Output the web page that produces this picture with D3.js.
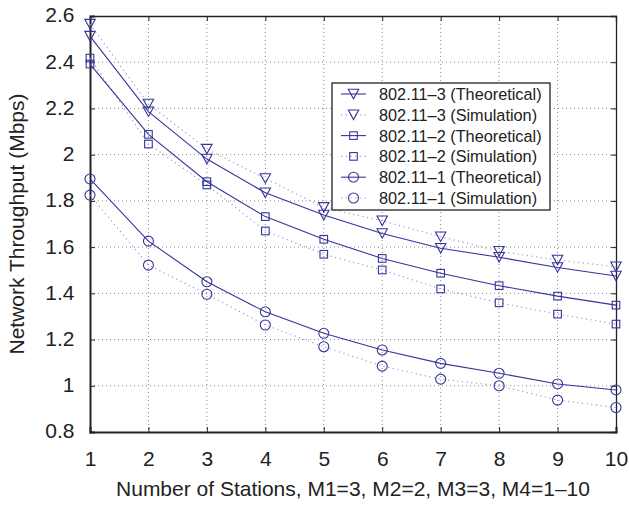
<!DOCTYPE html>
<html>
<head>
<meta charset="utf-8">
<script src="https://cdn.jsdelivr.net/npm/d3@7"></script>
<style>
  html, body { margin: 0; padding: 0; background: #fff; }
  svg { display: block; font-family: "Liberation Sans", Arial, Helvetica, sans-serif; }
</style>
</head>
<body>
<svg id="chart" width="629" height="505"></svg>
<script>
// Number of stations (M4)
const stations = [1, 2, 3, 4, 5, 6, 7, 8, 9, 10];

// Throughput in Mbps
const theo3 = [2.513, 2.186, 1.981, 1.835, 1.739, 1.659, 1.595, 1.556, 1.512, 1.475];
const sim3  = [2.565, 2.219, 2.024, 1.897, 1.772, 1.714, 1.645, 1.582, 1.544, 1.515];
const theo2 = [2.392, 2.088, 1.883, 1.732, 1.634, 1.551, 1.487, 1.433, 1.388, 1.349];
const sim2  = [2.418, 2.046, 1.869, 1.670, 1.569, 1.501, 1.419, 1.359, 1.310, 1.267];
const theo1 = [1.895, 1.626, 1.450, 1.320, 1.227, 1.155, 1.097, 1.054, 1.008, 0.982];
const sim1  = [1.825, 1.522, 1.396, 1.263, 1.169, 1.085, 1.029, 1.000, 0.938, 0.906];

const yTicks = [0.8, 1, 1.2, 1.4, 1.6, 1.8, 2, 2.2, 2.4, 2.6];
const xTicks = [1, 2, 3, 4, 5, 6, 7, 8, 9, 10];

const seriesNames = [
  "802.11\u20133 (Theoretical)", "802.11\u20133 (Simulation)",
  "802.11\u20132 (Theoretical)", "802.11\u20132 (Simulation)",
  "802.11\u20131 (Theoretical)", "802.11\u20131 (Simulation)"
];

const series = [
  { name: seriesNames[0], values: theo3, marker: "tri", kind: "theo" },
  { name: seriesNames[1], values: sim3,  marker: "tri", kind: "sim" },
  { name: seriesNames[2], values: theo2, marker: "sq",  kind: "theo" },
  { name: seriesNames[3], values: sim2,  marker: "sq",  kind: "sim" },
  { name: seriesNames[4], values: theo1, marker: "circ", kind: "theo" },
  { name: seriesNames[5], values: sim1,  marker: "circ", kind: "sim" }
];

const margin = { left: 90, top: 16, right: 13, bottom: 73 };
const W = 629, H = 505;
const pw = W - margin.left - margin.right;
const ph = H - margin.top - margin.bottom;

const markColor = "#35359a";
const simLineColor = "#9a9ad8";
const textColor = "#222";

const svg = d3.select("#chart");
const g = svg.append("g").attr("transform", `translate(${margin.left},${margin.top})`);

const x = d3.scaleLinear().domain([1, 10]).range([0, pw]);
const y = d3.scaleLinear().domain([0.8, 2.6]).range([ph, 0]);

// dotted grid
const grid = g.append("g");
grid.selectAll("line.gx").data(xTicks.slice(1, -1)).enter().append("line")
  .attr("x1", d => x(d)).attr("x2", d => x(d)).attr("y1", 0).attr("y2", ph)
  .attr("stroke", "#8a8a8a").attr("stroke-width", 1).attr("stroke-dasharray", "1,3");
grid.selectAll("line.gy").data(yTicks.slice(1, -1)).enter().append("line")
  .attr("x1", 0).attr("x2", pw).attr("y1", d => y(d)).attr("y2", d => y(d))
  .attr("stroke", "#8a8a8a").attr("stroke-width", 1).attr("stroke-dasharray", "1,3");

// axes with inward ticks
const tickFmt = d => d3.format("")(d);
const axB = g.append("g").attr("transform", `translate(0,${ph})`)
  .call(d3.axisBottom(x).tickValues(xTicks).tickSize(-5).tickPadding(19).tickFormat(tickFmt));
const axL = g.append("g")
  .call(d3.axisLeft(y).tickValues(yTicks).tickSize(-5).tickPadding(15.5).tickFormat(tickFmt));
const axT = g.append("g")
  .call(d3.axisTop(x).tickValues(xTicks).tickSize(-5).tickFormat(""));
const axR = g.append("g").attr("transform", `translate(${pw},0)`)
  .call(d3.axisRight(y).tickValues(yTicks).tickSize(-5).tickFormat(""));

[axB, axL, axT, axR].forEach(a => {
  a.select(".domain").attr("stroke", textColor).attr("stroke-width", 1.3);
  a.selectAll(".tick line").attr("stroke", textColor).attr("stroke-width", 1);
  a.selectAll(".tick text").attr("fill", textColor).attr("font-size", 21)
    .attr("font-family", "'Liberation Sans', Arial, sans-serif");
});
axL.selectAll(".tick text").attr("dy", "0.28em");
axB.select(".domain").attr("stroke-width", 2);
axL.select(".domain").attr("stroke-width", 2);

// marker shapes
function drawMarker(sel, type, cx, cy) {
  if (type === "tri") {
    const w = 5.2, h = 8.5;
    sel.append("path")
      .attr("d", `M${cx - w},${cy - h / 2 - 0.5}L${cx + w},${cy - h / 2 - 0.5}L${cx},${cy + h / 2 + 0.5}Z`)
      .attr("fill", "none").attr("stroke", markColor).attr("stroke-width", 1.1);
  } else if (type === "sq") {
    const s = 3.8;
    sel.append("rect")
      .attr("x", cx - s).attr("y", cy - s).attr("width", 2 * s).attr("height", 2 * s)
      .attr("fill", "none").attr("stroke", markColor).attr("stroke-width", 1.1);
  } else {
    sel.append("circle").attr("cx", cx).attr("cy", cy).attr("r", 5)
      .attr("fill", "none").attr("stroke", markColor).attr("stroke-width", 1.1);
  }
}

const line = d3.line().x((d, i) => x(stations[i])).y(d => y(d));

// dotted simulation lines first, then solid theoretical ones
series.filter(s => s.kind === "sim").forEach(s => {
  g.append("path").datum(s.values).attr("d", line)
    .attr("fill", "none").attr("stroke", simLineColor).attr("stroke-width", 1.2)
    .attr("stroke-dasharray", "1.2,3.5");
});
series.filter(s => s.kind === "theo").forEach(s => {
  g.append("path").datum(s.values).attr("d", line)
    .attr("fill", "none").attr("stroke", markColor).attr("stroke-width", 1.1);
});
series.forEach(s => {
  const mg = g.append("g");
  s.values.forEach((v, i) => drawMarker(mg, s.marker, x(stations[i]), y(v)));
});

// legend
const lg = svg.append("g").attr("transform", "translate(332,83)");
lg.append("rect").attr("x", 0).attr("y", 0).attr("width", 218).attr("height", 127)
  .attr("fill", "#fff").attr("stroke", textColor).attr("stroke-width", 1.3);
series.forEach((s, i) => {
  const ry = 11 + i * 20.8;
  if (s.kind === "theo") {
    lg.append("line").attr("x1", 9).attr("x2", 34).attr("y1", ry).attr("y2", ry)
      .attr("stroke", markColor).attr("stroke-width", 1.1);
  } else {
    lg.append("line").attr("x1", 9).attr("x2", 34).attr("y1", ry).attr("y2", ry)
      .attr("stroke", simLineColor).attr("stroke-width", 1.2).attr("stroke-dasharray", "1.2,3.5");
  }
  drawMarker(lg, s.marker, 21.5, ry);
  lg.append("text").attr("x", 47).attr("y", ry + 6).attr("font-size", 16.3)
    .attr("fill", textColor).text(s.name);
});

// axis titles
svg.append("text").attr("x", margin.left + pw / 2).attr("y", 496)
  .attr("text-anchor", "middle").attr("font-size", 21).attr("fill", textColor)
  .text("Number of Stations, M1=3, M2=2, M3=3, M4=1\u201310");
svg.append("text")
  .attr("transform", `translate(24,${margin.top + ph / 2}) rotate(-90)`)
  .attr("text-anchor", "middle").attr("font-size", 21).attr("fill", textColor)
  .text("Network Throughput (Mbps)");
</script>
</body>
</html>
